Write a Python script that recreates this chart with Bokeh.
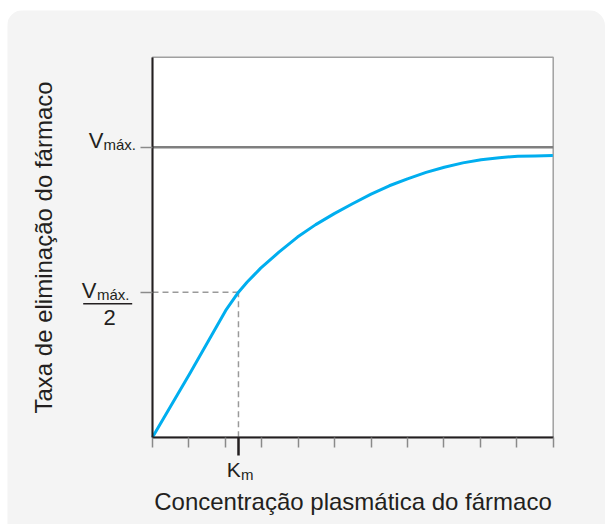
from bokeh.plotting import figure
from bokeh.models import Range1d, FixedTicker, Label, BoxAnnotation
from bokeh.embed import file_html
from bokeh.resources import INLINE

# ---- data ----
conc = [0.0, 1.045, 2.01, 2.36, 2.6, 2.97, 3.47, 3.98, 4.48, 4.99, 5.49,
        6.0, 6.5, 7.0, 7.51, 8.01, 8.52, 9.02, 9.52, 10.03, 10.5, 10.99]
rate = [0.0, 0.224, 0.437, 0.5, 0.535, 0.583, 0.638, 0.690, 0.733, 0.771, 0.805,
        0.838, 0.867, 0.891, 0.913, 0.931, 0.946, 0.957, 0.964, 0.969, 0.970, 0.971]
vmax = 1.0
vmax_half = 0.5
km = 2.36
x_max = 11
y_max = 1.31
x_minor_ticks = list(range(0, 12))
x_title = "Concentração plasmática do fármaco"
y_title = "Taxa de eliminação do fármaco"

FONT = "Liberation Sans"
INK = "#231f20"
GRAY = "#8a8a8a"

# layout: canvas 598x514 placed at (7,10); plot area occupies px 145..545.7 x 46.7..426.7
W, H = 598, 514
PX_X = 400.7 / x_max      # pixels per x unit
PX_Y = 290.0              # pixels per y unit
X0, Y0 = 145.0, 426.7     # canvas pixel position of data origin
x_range = Range1d(-X0 / PX_X, (W - X0) / PX_X)
y_range = Range1d(-(H - Y0) / PX_Y, Y0 / PX_Y)

p = figure(width=W, height=H, output_backend="svg", toolbar_location=None,
           x_range=x_range, y_range=y_range,
           min_border=0, min_border_left=0, min_border_right=0,
           min_border_top=0, min_border_bottom=0, margin=(10, 0, 0, 7))
p.styles = {"border-radius": "16px 16px 0 0", "overflow": "hidden"}
p.border_fill_color = "#f4f4f4"
p.background_fill_color = "#f4f4f4"
p.outline_line_color = None
p.grid.visible = False

# plot area
p.quad(left=0, right=x_max, bottom=0, top=y_max, fill_color="white",
       line_color="#a0a0a0", line_width=1.5)

# x axis
xa = p.xaxis[0]
xa.fixed_location = 0
xa.bounds = (0, x_max)
xa.ticker = FixedTicker(ticks=[km], minor_ticks=x_minor_ticks)
xa.major_label_overrides = {km: ""}
xa.axis_line_color = INK
xa.axis_line_width = 2
xa.major_tick_line_color = INK
xa.major_tick_line_width = 2.5
xa.major_tick_out = 18
xa.major_tick_in = 0
xa.minor_tick_line_color = GRAY
xa.minor_tick_line_width = 1.5
xa.minor_tick_out = 10
xa.minor_tick_in = 0
xa.axis_label = x_title
xa.axis_label_text_font = FONT
xa.axis_label_text_font_style = "normal"
xa.axis_label_text_font_size = "24px"
xa.axis_label_text_color = INK
xa.axis_label_standoff = 32

# y axis
ya = p.yaxis[0]
ya.fixed_location = 0
ya.bounds = (0, y_max)
ya.ticker = FixedTicker(ticks=[vmax_half, vmax], minor_ticks=[])
ya.major_label_overrides = {vmax_half: "", vmax: ""}
ya.axis_line_color = INK
ya.axis_line_width = 2
ya.major_tick_line_color = GRAY
ya.major_tick_line_width = 1.5
ya.major_tick_out = 12
ya.major_tick_in = 0
ya.axis_label = y_title
ya.axis_label_text_font = FONT
ya.axis_label_text_font_style = "normal"
ya.axis_label_text_font_size = "24px"
ya.axis_label_text_color = INK
ya.axis_label_standoff = 84

# Vmax line
p.line([0, x_max], [vmax, vmax], line_color="#7f7f7f", line_width=2.5)
# dashed guides
p.line([0, km], [vmax_half, vmax_half], line_color="#9a9a9a", line_width=1.5, line_dash="6 4")
p.line([km, km], [0, vmax_half], line_color="#9a9a9a", line_width=1.5, line_dash="6 4")
# curve
p.line(conc, rate, line_color="#00aeef", line_width=3, line_join="round")

def lab(text, x, y, dx, dy, size, align):
    p.add_layout(Label(x=x, y=y, x_offset=dx, y_offset=dy, text=text,
                       text_font=FONT, text_font_size=size, text_color=INK,
                       text_align=align, text_baseline="alphabetic"))

# Vmax label
lab("V", 0, vmax, -49, 6.4, "22px", "right")
lab("máx.", 0, vmax, -49, 2.9, "15px", "left")
# Vmax/2 label
lab("V", 0, vmax_half, -56, 1.4, "22px", "right")
lab("máx.", 0, vmax_half, -55.5, -2.6, "15px", "left")
lab("2", 0, vmax_half, -43, -25.6, "22px", "center")
# fraction bar (screen units measured from canvas bottom-left)
p.add_layout(BoxAnnotation(left=75.7, right=124.7, left_units="screen", right_units="screen",
                           top=H - 293.3 + 0.8, bottom=H - 293.3 - 0.8,
                           top_units="screen", bottom_units="screen",
                           fill_color=INK, fill_alpha=1, line_alpha=0))
# Km label
lab("K", km, 0, 2.3, -31.9, "21px", "right")
lab("m", km, 0, 2.5, -37.1, "15px", "left")

open("out.html", "w").write(file_html(p, INLINE))
